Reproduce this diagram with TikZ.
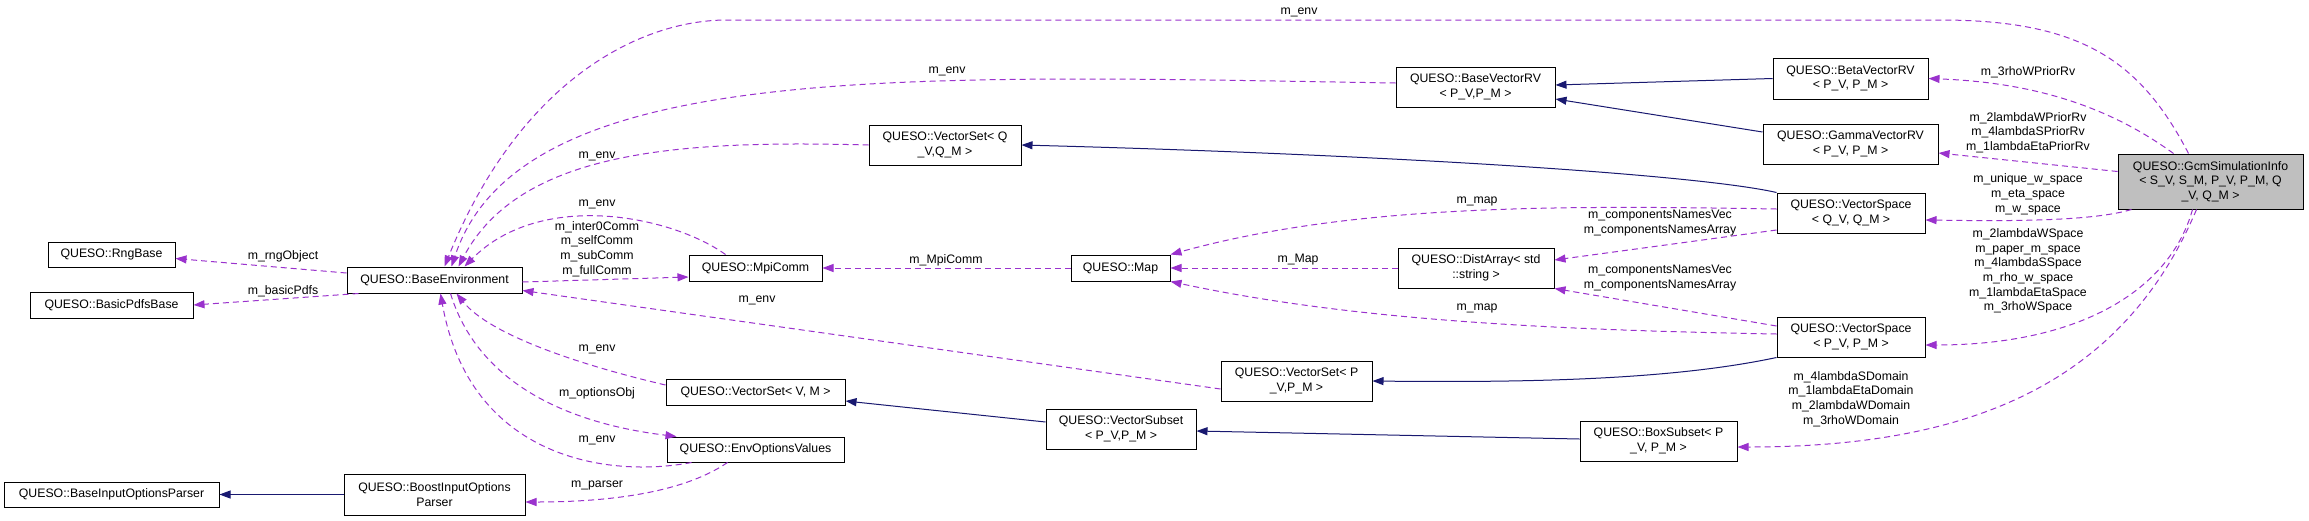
\documentclass[tikz,border=0pt]{standalone}
\usepackage{fontspec}
\setmainfont{Liberation Sans}
\usetikzlibrary{arrows.meta}
\definecolor{usecol}{RGB}{154,50,205}
\definecolor{isacol}{RGB}{25,25,112}
\definecolor{rootfill}{RGB}{191,191,191}

\begin{document}
\begin{tikzpicture}[
            x=1pt, y=-1pt,
            every node/.style={ font=\fontsize{12.3}{14.7}\selectfont, inner sep=0pt, align=center },
            cls/.style 2 args={ draw=black, line width=1pt, minimum width=#1pt, minimum height=#2pt },
            lbl/.style={ text=black },
            usedby/.style={ draw=usecol, line width=1pt, dash pattern=on 6pt off 4pt, -{Triangle[length=11pt,width=8pt]} },
            isa/.style={ draw=isacol, line width=1pt, -{Triangle[length=11pt,width=8pt]} }
        ]

        \path[use as bounding box, fill=white] (0,0) rectangle (2309,520);

        \node[cls={127}{25}] (rng) at (111.5,254.5) {QUESO::RngBase};
        \node[cls={163}{26}] (pdfs) at (111.5,305) {QUESO::BasicPdfsBase};
        \node[cls={215}{25}] (parser) at (111.5,494.5) {QUESO::BaseInputOptionsParser};
        \node[cls={175}{26}] (env) at (434.5,280) {QUESO::BaseEnvironment};
        \node[cls={181}{41}] (boost) at (434.5,494.5) {QUESO::BoostInputOptions\\Parser};
        \node[cls={133}{26}] (mpi) at (755.5,268) {QUESO::MpiComm};
        \node[cls={179}{26}] (setvm) at (755.5,392) {QUESO::VectorSet< V, M >};
        \node[cls={177}{25}] (opts) at (755.5,449.5) {QUESO::EnvOptionsValues};
        \node[cls={152}{40}] (setq) at (945,145) {QUESO::VectorSet< Q\\\_V,Q\_M >};
        \node[cls={99}{26}] (map) at (1120.5,268) {QUESO::Map};
        \node[cls={150}{40}] (subset) at (1121,429) {QUESO::VectorSubset\\< P\_V,P\_M >};
        \node[cls={151}{40}] (setp) at (1296.5,381) {QUESO::VectorSet< P\\\_V,P\_M >};
        \node[cls={159}{40}] (baserv) at (1475.5,87) {QUESO::BaseVectorRV\\< P\_V,P\_M >};
        \node[cls={156}{40}] (dist) at (1476,268) {QUESO::DistArray< std\\::string >};
        \node[cls={157}{40}] (boxsub) at (1658.5,441) {QUESO::BoxSubset< P\\\_V, P\_M >};
        \node[cls={155}{41}] (beta) at (1850.5,78.5) {QUESO::BetaVectorRV\\< P\_V, P\_M >};
        \node[cls={175}{40}] (gamma) at (1850.5,144) {QUESO::GammaVectorRV\\< P\_V, P\_M >};
        \node[cls={148}{40}] (spaceq) at (1851,213) {QUESO::VectorSpace\\< Q\_V, Q\_M >};
        \node[cls={148}{40}] (spacep) at (1851,337) {QUESO::VectorSpace\\< P\_V, P\_M >};
        \node[cls={185}{55}, fill=rootfill] (gcm) at (2210.5,181.5) {QUESO::GcmSimulationInfo\\< S\_V, S\_M, P\_V, P\_M, Q\\\_V, Q\_M >};

        \coordinate (topright) at (1940,20);
        \coordinate (topleft) at (727,20);

        \draw[isa] (boost.west) -- (parser.east);
        \draw[isa] ([yshift=7pt]subset.west) -- ([yshift=-9pt]setvm.east);
        \draw[isa] ([yshift=2pt]boxsub.west) -- ([yshift=-2pt]subset.east);
        \draw[isa] (spaceq.north west) .. controls (1700,175) and (1400,155) .. (setq.east);
        \draw[isa] (spacep.south west) .. controls (1680,378) and (1550,383) .. (setp.east);
        \draw[isa] (beta.west) -- ([yshift=2pt]baserv.east);
        \draw[isa] ([yshift=12pt]gamma.west) -- ([yshift=-12pt]baserv.east);

        \draw[usedby] ([yshift=7pt]env.west) -- ([yshift=-4pt]rng.east);
        \draw[usedby] ([xshift=12pt]env.south west) -- (pdfs.east);
        \draw[usedby] ([yshift=-2pt]env.east) -- ([yshift=-9pt]mpi.west);
        \draw[usedby] ([xshift=-30pt]mpi.north) .. controls (670,215) and (540,190) .. ([xshift=30pt]env.north);
        \draw[usedby] (map.west) -- (mpi.east);
        \draw[usedby] (dist.west) -- (map.east);
        \draw[usedby] ([yshift=4pt]spaceq.west) .. controls (1550,205) and (1350,205) .. (map.north east);
        \draw[usedby] ([yshift=-17pt]spaceq.west) -- ([yshift=8pt]dist.east);
        \draw[usedby] ([yshift=11pt]spacep.west) -- (dist.south east);
        \draw[usedby] ([yshift=3pt]spacep.west) .. controls (1550,330) and (1350,320) .. (map.south east);
        \draw[usedby] ([xshift=-28pt]opts.south) .. controls (680,495) and (600,502) .. ([yshift=-7.5pt]boost.east);
        \draw[usedby] ([xshift=-64pt]opts.south) .. controls (610,478) and (470,460) .. ([xshift=6pt]env.south);
        \draw[usedby] ([xshift=16pt]env.south) .. controls (480,390) and (580,425) .. ([xshift=10pt]opts.north west);
        \draw[usedby] ([yshift=7pt]setvm.west) .. controls (580,365) and (490,335) .. ([xshift=22pt]env.south);
        \draw[usedby] ([yshift=-8pt]setp.west) -- ([yshift=3pt]env.south east);
        \draw[usedby] (setq.west) .. controls (680,140) and (520,150) .. ([xshift=24pt]env.north);
        \draw[usedby] ([yshift=4pt]baserv.west) .. controls (900,75) and (520,60) .. ([xshift=17pt]env.north);
        \draw[usedby] ([xshift=-22pt]gcm.north) .. controls (2140,60) and (2080,20) .. (topright) -- (topleft) .. controls (640,20) and (520,80) .. ([xshift=10pt]env.north);
        \draw[usedby] ([xshift=-37pt]gcm.north) .. controls (2100,100) and (2020,82) .. (beta.east);
        \draw[usedby] ([yshift=10pt]gcm.west) -- ([yshift=-9pt]gamma.east);
        \draw[usedby] ([xshift=14pt]gcm.south west) .. controls (2090,222) and (2000,221) .. ([yshift=-7pt]spaceq.east);
        \draw[usedby] ([xshift=-18pt]gcm.south) .. controls (2170,290) and (2080,345) .. ([yshift=-8pt]spacep.east);
        \draw[usedby] ([xshift=-14pt]gcm.south) .. controls (2120,390) and (1960,447) .. ([yshift=-6pt]boxsub.east);

        \node[lbl] (lrng) at (283,256) {m\_rngObject};
        \node[lbl] (lpdfs) at (283,291) {m\_basicPdfs};
        \node[lbl] (lcomm) at (597,249) {m\_inter0Comm\\m\_selfComm\\m\_subComm\\m\_fullComm};
        \node[lbl] (lenvmpi) at (597,204) {m\_env};
        \node[lbl] (lenvsetq) at (597,156) {m\_env};
        \node[lbl] (lenvsetvm) at (597,349) {m\_env};
        \node[lbl] (loptsobj) at (597,393) {m\_optionsObj};
        \node[lbl] (lenvopts) at (597,440) {m\_env};
        \node[lbl] (lparser) at (597,485) {m\_parser};
        \node[lbl] (lenvsetp) at (757,300) {m\_env};
        \node[lbl] (lmpicomm) at (946,260) {m\_MpiComm};
        \node[lbl] (lenvbaserv) at (947,71) {m\_env};
        \node[lbl] (lenvgcm) at (1299,12) {m\_env};
        \node[lbl] (lmapdist) at (1298,260) {m\_Map};
        \node[lbl] (lmapq) at (1477,201) {m\_map};
        \node[lbl] (lmapp) at (1477,308) {m\_map};
        \node[lbl] (lnamesq) at (1660,223) {m\_componentsNamesVec\\m\_componentsNamesArray};
        \node[lbl] (lnamesp) at (1660,278) {m\_componentsNamesVec\\m\_componentsNamesArray};
        \node[lbl] (lbox) at (1851,399) {m\_4lambdaSDomain\\m\_1lambdaEtaDomain\\m\_2lambdaWDomain\\m\_3rhoWDomain};
        \node[lbl] (lbeta) at (2028,72) {m\_3rhoWPriorRv};
        \node[lbl] (lgamma) at (2028,132.5) {m\_2lambdaWPriorRv\\m\_4lambdaSPriorRv\\m\_1lambdaEtaPriorRv};
        \node[lbl] (lspaceq) at (2028,194.5) {m\_unique\_w\_space\\m\_eta\_space\\m\_w\_space};
        \node[lbl] (lspacep) at (2028,271) {m\_2lambdaWSpace\\m\_paper\_m\_space\\m\_4lambdaSSpace\\m\_rho\_w\_space\\m\_1lambdaEtaSpace\\m\_3rhoWSpace};
    \end{tikzpicture}
\end{document}
